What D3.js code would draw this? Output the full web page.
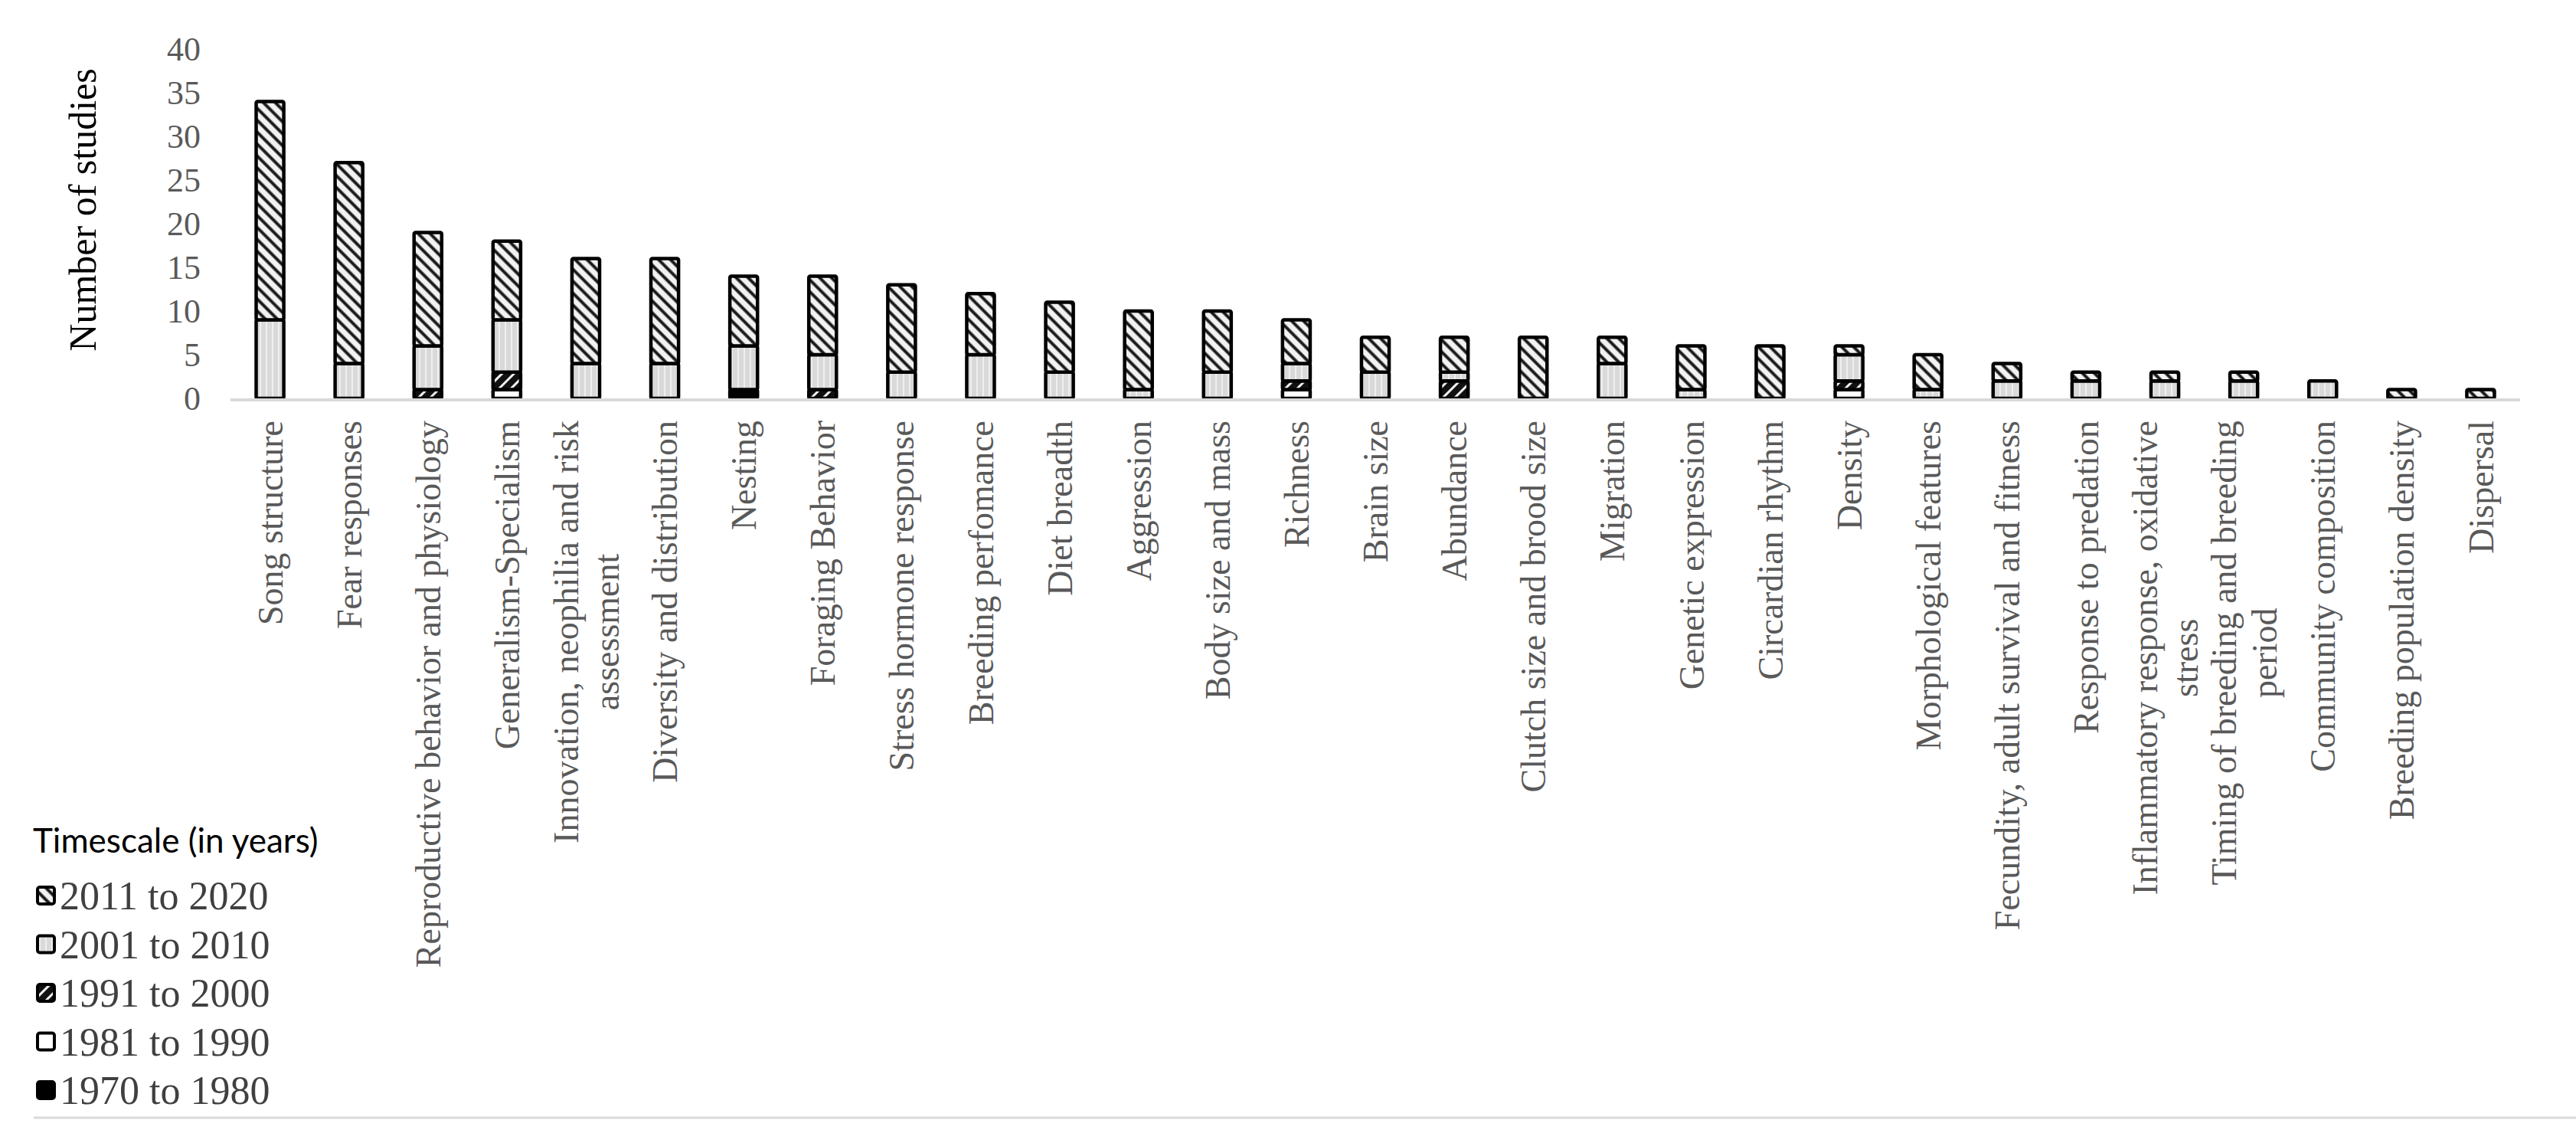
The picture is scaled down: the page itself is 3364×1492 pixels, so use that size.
<!DOCTYPE html>
<html>
<head>
<meta charset="utf-8">
<script src="https://cdn.jsdelivr.net/npm/d3@7"></script>
<style>
  body { margin: 0; background: #fff; }
  svg { display: block; }
</style>
</head>
<body>
<script>
// categories (a "\n" marks where the original label wraps)
var categories = [
  "Song structure", "Fear responses", "Reproductive behavior and physiology",
  "Generalism-Specialism", "Innovation, neophilia and risk\nassessment",
  "Diversity and distribution", "Nesting", "Foraging Behavior",
  "Stress hormone response", "Breeding perfomance", "Diet breadth",
  "Aggression", "Body size and mass", "Richness", "Brain size", "Abundance",
  "Clutch size and brood size", "Migration", "Genetic expression",
  "Circardian rhythm", "Density", "Morphological features",
  "Fecundity, adult survival and fitness", "Response to predation",
  "Inflammatory response, oxidative\nstress", "Timing of breeding and breeding\nperiod",
  "Community composition", "Breeding population density", "Dispersal"
];

// number of studies per timescale, same order as categories
var y1970to1980 = [0,0,0,0,0,0,1,0,0,0,0,0,0,0,0,0,0,0,0,0,0,0,0,0,0,0,0,0,0];
var y1981to1990 = [0,0,0,1,0,0,0,0,0,0,0,0,0,1,0,0,0,0,0,0,1,0,0,0,0,0,0,0,0];
var y1991to2000 = [0,0,1,2,0,0,0,1,0,0,0,0,0,1,0,2,0,0,0,0,1,0,0,0,0,0,0,0,0];
var y2001to2010 = [9,4,5,6,4,4,5,4,3,5,3,1,3,2,3,1,0,4,1,0,3,1,2,2,2,2,2,0,0];
var y2011to2020 = [25,23,13,9,12,12,8,9,10,7,8,9,7,5,4,4,7,3,5,6,1,4,2,1,1,1,0,1,1];

var seriesKeys = ["1970 to 1980", "1981 to 1990", "1991 to 2000", "2001 to 2010", "2011 to 2020"];
var seriesValues = [y1970to1980, y1981to1990, y1991to2000, y2001to2010, y2011to2020];
var yTicks = [0, 5, 10, 15, 20, 25, 30, 35, 40];

var width = 3364,
    height = 1492,
    plotLeft = 301,
    plotRight = 3291,
    plotTop = 64,
    plotBottom = 520;

var serif = "'Liberation Serif', 'Times New Roman', serif";

// table for d3.stack
var table = categories.map(function(c, i) {
  var row = {category: c};
  seriesKeys.forEach(function(k, j) { row[k] = seriesValues[j][i]; });
  return row;
});

var svg = d3.select("body").append("svg")
  .attr("width", width)
  .attr("height", height);

// fill patterns, one per timescale
var defs = svg.append("defs");

function hatch(id, bg, lineColor, lineWidth, size, angle) {
  var p = defs.append("pattern")
    .attr("id", id)
    .attr("patternUnits", "userSpaceOnUse")
    .attr("width", size)
    .attr("height", size)
    .attr("patternTransform", "rotate(" + angle + ")");
  p.append("rect").attr("width", size).attr("height", size).attr("fill", bg);
  p.append("line")
    .attr("x1", size / 2).attr("y1", 0)
    .attr("x2", size / 2).attr("y2", size)
    .attr("stroke", lineColor)
    .attr("stroke-width", lineWidth);
}
hatch("p2011", "#f2f2f2", "#1a1a1a", 4, 11, -45);
hatch("p2001", "#d9d9d9", "#efefef", 2, 8, 0);
hatch("p1991", "#111", "#f0f0f0", 3, 11, 45);

var fills = {
  "1970 to 1980": "#000",
  "1981 to 1990": "#fff",
  "1991 to 2000": "url(#p1991)",
  "2001 to 2010": "url(#p2001)",
  "2011 to 2020": "url(#p2011)"
};

var x = d3.scaleBand()
  .domain(categories)
  .range([plotLeft, plotRight])
  .paddingInner(0.65)
  .paddingOuter(0.325);

var y = d3.scaleLinear()
  .domain([0, 40])
  .range([plotBottom, plotTop]);

// y axis: labels only
var yAxis = svg.append("g")
  .attr("transform", "translate(" + 262 + ",0)")
  .call(d3.axisLeft(y).tickValues(yTicks).tickSize(0).tickPadding(0));
yAxis.select(".domain").remove();
yAxis.selectAll("text")
  .attr("font-family", serif)
  .attr("font-size", 44)
  .attr("fill", "#595959");

svg.append("text")
  .attr("transform", "translate(107," + 274 + ") rotate(-90)")
  .attr("text-anchor", "middle")
  .attr("dy", "0.35em")
  .attr("font-family", serif)
  .attr("font-size", 50)
  .attr("fill", "#000")
  .text("Number of studies");

// stacked bars
var stacked = d3.stack().keys(seriesKeys)(table);

svg.append("g")
  .selectAll("g")
  .data(stacked)
  .join("g")
    .attr("fill", function(d) { return fills[d.key]; })
  .selectAll("rect")
  .data(function(d) { return d.filter(function(s) { return s[1] > s[0]; }); })
  .join("rect")
    .attr("x", function(d) { return x(d.data.category); })
    .attr("y", function(d) { return y(d[1]); })
    .attr("width", x.bandwidth())
    .attr("height", function(d) { return y(d[0]) - y(d[1]); })
    .attr("stroke", "#000")
    .attr("stroke-width", 4.5)
    .attr("rx", 2);

// baseline
svg.append("line")
  .attr("x1", plotLeft).attr("x2", plotRight)
  .attr("y1", y(0) + 2).attr("y2", y(0) + 2)
  .attr("stroke", "#d9d9d9")
  .attr("stroke-width", 4);

// category labels, rotated, reading upward
var labelTop = 549,
    labelSize = 46,
    lineStep = 53;

var labels = svg.append("g").selectAll("g")
  .data(categories)
  .join("g")
    .attr("transform", function(d) {
      return "translate(" + (x(d) + x.bandwidth() / 2) + "," + labelTop + ") rotate(-90)";
    });

labels.each(function(d) {
  var g = d3.select(this);
  var lines = d.split("\n");
  var texts = g.selectAll("text")
    .data(lines)
    .join("text")
      .attr("font-family", serif)
      .attr("font-size", labelSize)
      .attr("fill", "#595959")
      .attr("dy", "0.35em")
      .attr("y", function(l, i) { return (i - (lines.length - 1) / 2) * lineStep; })
      .text(function(l) { return l; });
  if (lines.length === 1) {
    texts.attr("text-anchor", "end").attr("x", 0);
  } else {
    var maxLen = d3.max(texts.nodes(), function(n) { return n.getComputedTextLength(); });
    texts.attr("text-anchor", "middle").attr("x", -maxLen / 2);
  }
});

// legend
var legend = svg.append("g");

legend.append("text")
  .attr("x", 43)
  .attr("y", 1098)
  .attr("dy", "0.35em")
  .style("font-family", "Lato, 'Open Sans', sans-serif")
  .attr("font-size", 44)
  .attr("fill", "#000")
  .text("Timescale  (in years)");

var legendOrder = seriesKeys.slice().reverse();

var items = legend.selectAll("g.item")
  .data(legendOrder)
  .join("g")
    .attr("class", "item")
    .attr("transform", function(d, i) { return "translate(0," + (1169 + i * 63.5) + ")"; });

items.append("rect")
  .attr("x", 49)
  .attr("y", -11)
  .attr("width", 22)
  .attr("height", 22)
  .attr("rx", 3)
  .attr("fill", function(d) { return fills[d]; })
  .attr("stroke", "#000")
  .attr("stroke-width", 4);

items.append("text")
  .attr("x", 78)
  .attr("dy", "0.35em")
  .style("font-family", serif)
  .attr("font-size", 52)
  .attr("fill", "#404040")
  .text(function(d) { return d; });

// bottom rule
svg.append("line")
  .attr("x1", 44).attr("x2", width)
  .attr("y1", 1459).attr("y2", 1459)
  .attr("stroke", "#d9d9d9")
  .attr("stroke-width", 3);
</script>
</body>
</html>
